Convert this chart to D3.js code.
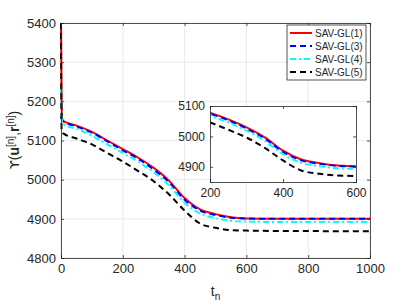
<!DOCTYPE html>
<html>
<head>
<meta charset="utf-8">
<script src="https://cdn.jsdelivr.net/npm/d3@7"></script>
<style>
body{margin:0;background:#fff;}
text{font-family:"Liberation Sans",Arial,sans-serif;fill:#262626;}
</style>
</head>
<body>
<div id="chart"></div>
<script>
var tVals=[0,2,5,10,50,100,150,200,250,300,350,400,450,500,550,600,700,800,900,1000]
var gl1=[5400,5200,5150,5148,5138,5122,5100,5078,5056,5030,4997,4953,4924,4912,4904,4901,4900,4900,4900,4900]
var gl3=[5160,5155,5152,5148,5136,5120,5098,5075,5053,5026,4993,4949,4921,4910,4903,4901,4900,4900,4900,4900]
var gl4=[5235,5160,5145,5140,5130,5112,5090,5068,5046,5019,4985,4941,4913,4902,4895,4893,4892,4892,4892,4892]
var gl5=[5400,5130,5120,5117,5105,5090,5068,5046,5022,4996,4962,4921,4888,4877,4871,4870,4869,4869,4868,4868]
var names=["SAV-GL(1)","SAV-GL(3)","SAV-GL(4)","SAV-GL(5)"]
var xTicks=[0,200,400,600,800,1000]
var yTicks=[4800,4900,5000,5100,5200,5300,5400]
var inXTicks=[200,400,600]
var inYTicks=[4900,5000,5100]

var series=[gl1,gl3,gl4,gl5]
var colors=["#ff0000","#0000ff","#00ffff","#000000"]
var dashes=[null,"6,4","6,3,2,3","6,4"]
var fmt=d3.format("d")

var svg=d3.select("#chart").append("svg")
    .attr("width",409).attr("height",307)

var m={l:61,r:370,t:23,b:258}
var x=d3.scaleLinear().domain([0,1000]).range([m.l,m.r])
var y=d3.scaleLinear().domain([4800,5400]).range([m.b,m.t])

// grid
svg.append("g").selectAll("line").data(xTicks).enter().append("line")
  .attr("x1",d=>x(d)).attr("x2",d=>x(d)).attr("y1",m.t).attr("y2",m.b)
  .attr("stroke","#e3e3e3").attr("stroke-width",0.8)
svg.append("g").selectAll("line").data(yTicks).enter().append("line")
  .attr("y1",d=>y(d)).attr("y2",d=>y(d)).attr("x1",m.l).attr("x2",m.r)
  .attr("stroke","#e3e3e3").attr("stroke-width",0.8)

svg.append("defs").append("clipPath").attr("id","clipMain")
  .append("rect").attr("x",m.l-2).attr("y",m.t).attr("width",m.r-m.l+2).attr("height",m.b-m.t)

function drawLines(g,xs,ys,clip){
  var line=d3.line().curve(d3.curveMonotoneX).x((d,i)=>xs(tVals[i])).y(d=>ys(d))
  g.append("g").attr("clip-path","url(#"+clip+")")
    .selectAll("path").data(series).enter().append("path")
    .attr("d",d=>line(d))
    .attr("fill","none")
    .attr("stroke",(d,i)=>colors[i])
    .attr("stroke-width",2)
    .attr("stroke-dasharray",(d,i)=>dashes[i])
}
drawLines(svg,x,y,"clipMain")

// axes
svg.append("g").attr("transform","translate(0,"+m.b+")")
  .call(d3.axisBottom(x).tickValues(xTicks).tickSize(-3).tickPadding(6).tickFormat(fmt))
svg.append("g").attr("transform","translate("+m.l+",0)")
  .call(d3.axisLeft(y).tickValues(yTicks).tickSize(-3).tickPadding(5).tickFormat(fmt))
svg.append("g").attr("transform","translate(0,"+m.t+")")
  .call(d3.axisTop(x).tickValues(xTicks).tickSize(-3).tickFormat(""))
svg.append("g").attr("transform","translate("+m.r+",0)")
  .call(d3.axisRight(y).tickValues(yTicks).tickSize(-3).tickFormat(""))
svg.selectAll(".domain,.tick line").attr("stroke","#262626").attr("stroke-width",0.8)
svg.selectAll(".tick text").style("font-size","13px").attr("fill","#262626")

// labels
var xl=svg.append("text").attr("x",(m.l+m.r)/2).attr("y",296)
  .attr("text-anchor","middle").style("font-size","14px")
xl.append("tspan").text("t")
xl.append("tspan").attr("dy",4).style("font-size","10px").text("n")

var yl=svg.append("text").attr("transform","translate(19,140) rotate(-90)")
  .attr("text-anchor","middle").style("font-size","14px")
yl.append("tspan").style("font-family","'DejaVu Sans'").style("font-size","13px").text("\u03D2")
yl.append("tspan").text("(")
yl.append("tspan").style("font-weight","bold").text("u")
yl.append("tspan").attr("dy",-5).style("font-size","10px").text("[n]")
yl.append("tspan").attr("dy",5).text(",")
yl.append("tspan").style("font-weight","bold").text("r")
yl.append("tspan").attr("dy",-5).style("font-size","10px").text("[n]")
yl.append("tspan").attr("dy",5).text(")")

// inset
var im={l:210,r:356,t:106,b:182}
var ix=d3.scaleLinear().domain([200,600]).range([im.l,im.r])
var iy=d3.scaleLinear().domain([4850,5100]).range([im.b,im.t])
var ins=svg.append("g")
ins.append("rect").attr("x",im.l).attr("y",im.t).attr("width",im.r-im.l).attr("height",im.b-im.t).attr("fill","#fff")
svg.select("defs").append("clipPath").attr("id","clipIn")
  .append("rect").attr("x",im.l).attr("y",im.t).attr("width",im.r-im.l).attr("height",im.b-im.t)
drawLines(ins,ix,iy,"clipIn")
ins.append("g").attr("transform","translate(0,"+im.b+")")
  .call(d3.axisBottom(ix).tickValues(inXTicks).tickSize(-3).tickPadding(6).tickFormat(fmt))
ins.append("g").attr("transform","translate("+im.l+",0)")
  .call(d3.axisLeft(iy).tickValues(inYTicks).tickSize(-3).tickPadding(5).tickFormat(fmt))
ins.append("g").attr("transform","translate(0,"+im.t+")")
  .call(d3.axisTop(ix).tickValues(inXTicks).tickSize(-3).tickFormat(""))
ins.append("g").attr("transform","translate("+im.r+",0)")
  .call(d3.axisRight(iy).tickValues(inYTicks).tickSize(-3).tickFormat(""))
ins.selectAll(".domain,.tick line").attr("stroke","#262626").attr("stroke-width",0.8)
ins.selectAll(".tick text").style("font-size","12px").attr("fill","#262626")

// legend
var lg=svg.append("g")
lg.append("rect").attr("x",287).attr("y",25).attr("width",79).attr("height",55)
  .attr("fill","#fff").attr("stroke","#262626").attr("stroke-width",0.8)
var rows=lg.selectAll("g.row").data(names).enter().append("g")
  .attr("transform",(d,i)=>"translate(290,"+(33+i*13)+")")
rows.append("line").attr("x1",0).attr("x2",22).attr("y1",0).attr("y2",0)
  .attr("stroke",(d,i)=>colors[i]).attr("stroke-width",2)
  .attr("stroke-dasharray",(d,i)=>dashes[i])
rows.append("text").attr("x",25).attr("y",3.5).style("font-size","10px").text(d=>d)
</script>
</body>
</html>
